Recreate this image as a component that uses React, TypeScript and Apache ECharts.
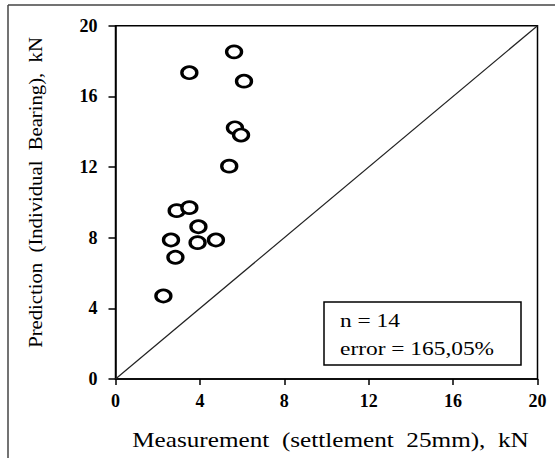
import React, { useEffect, useRef } from "react";
import * as echarts from "echarts";

const measured = [5.62, 3.5, 6.09, 5.66, 5.95, 5.39, 2.9, 3.5, 3.93, 2.63, 3.89, 4.76, 2.84, 2.27];
const predicted = [18.52, 17.34, 16.86, 14.22, 13.81, 12.05, 9.53, 9.7, 8.62, 7.87, 7.72, 7.87, 6.89, 4.7];
const lineOfEquality = [[0, 0], [20, 20]];
const xTitle = "Measurement  (settlement  25mm),  kN";
const yTitle = "Prediction  (Individual  Bearing),  kN";
const statLines = ["n = 14", "error = 165,05%"];

const FONT = "Liberation Serif";

export default function App() {
  const ref = useRef<HTMLDivElement>(null);
  useEffect(() => {
    if (!ref.current) return;
    const chart = echarts.init(ref.current, null, { renderer: "svg" });
    const pts = measured.map((m, i) => [m, predicted[i]]);
    chart.setOption({
      animation: false,
      backgroundColor: "#fff",
      textStyle: { fontFamily: FONT },
      grid: {
        left: 115.5,
        top: 25.7,
        right: 17.5,
        bottom: 79,
        show: true,
        borderColor: "#000",
        borderWidth: 1.5,
        backgroundColor: "transparent",
      },
      xAxis: {
        type: "value",
        min: 0,
        max: 20,
        interval: 4,
        axisLine: { show: true, lineStyle: { color: "#000", width: 1.5 } },
        axisTick: { show: true, length: 6, lineStyle: { color: "#000", width: 1.5 } },
        axisLabel: { fontFamily: FONT, fontSize: 18, fontWeight: "bold", color: "#000", margin: 13 },
        splitLine: { show: false },
      },
      yAxis: {
        type: "value",
        min: 0,
        max: 20,
        interval: 4,
        axisLine: { show: true, lineStyle: { color: "#000", width: 1.5 } },
        axisTick: { show: true, length: 7, lineStyle: { color: "#000", width: 1.5 } },
        axisLabel: { fontFamily: FONT, fontSize: 18, fontWeight: "bold", color: "#000", margin: 18 },
        splitLine: { show: false },
      },
      series: [
        {
          type: "line",
          data: lineOfEquality,
          symbol: "none",
          lineStyle: { color: "#222", width: 1.2 },
          silent: true,
        },
        {
          type: "scatter",
          data: pts,
          symbol: "circle",
          symbolSize: [15, 12],
          itemStyle: { color: "#fff", borderColor: "#000", borderWidth: 3, opacity: 1 },
        },
      ],
      graphic: [
        { type: "line", shape: { x1: 8, y1: 5, x2: 555, y2: 5 }, style: { stroke: "#444", lineWidth: 1.5 } },
        { type: "line", shape: { x1: 8, y1: 5, x2: 8, y2: 458 }, style: { stroke: "#444", lineWidth: 1.5 } },
        {
          type: "text",
          x: 330.5,
          y: 440,
          scaleX: 1.26,
          style: { text: xTitle, fontFamily: FONT, fontSize: 20, fill: "#000", align: "center", verticalAlign: "middle" },
        },
        {
          type: "text",
          x: 35.5,
          y: 192.5,
          rotation: Math.PI / 2,
          scaleX: 1.15,
          style: { text: yTitle, fontFamily: FONT, fontSize: 18, fill: "#000", align: "center", verticalAlign: "middle" },
        },
        {
          type: "rect",
          shape: { x: 324, y: 302, width: 197, height: 63 },
          style: { fill: "#fff", stroke: "#000", lineWidth: 1.5 },
          z: 10,
        },
        {
          type: "text",
          x: 340,
          y: 321,
          z: 11,
          scaleX: 1.3,
          style: { text: statLines[0], fontFamily: FONT, fontSize: 18, fill: "#000", verticalAlign: "middle" },
        },
        {
          type: "text",
          x: 340,
          y: 349,
          z: 11,
          scaleX: 1.3,
          style: { text: statLines[1], fontFamily: FONT, fontSize: 18, fill: "#000", verticalAlign: "middle" },
        },
      ],
    });
    return () => chart.dispose();
  }, []);
  return <div ref={ref} style={{ position: "fixed", left: 0, top: 0, width: 555, height: 458 }} />;
}
